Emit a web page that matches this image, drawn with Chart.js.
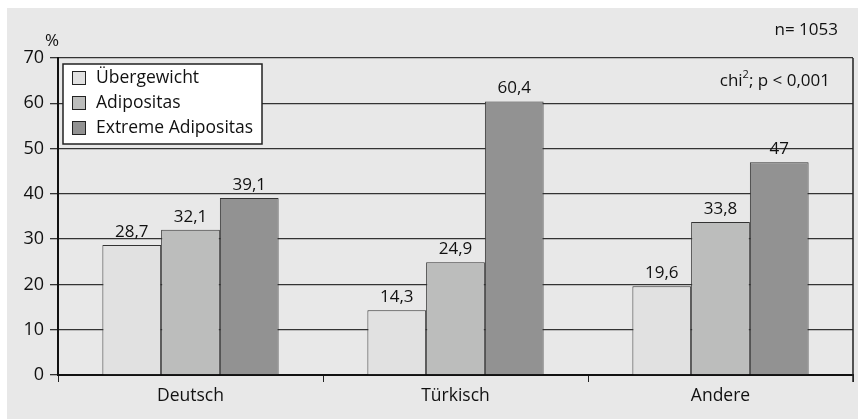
<!DOCTYPE html>
<html>
<head>
<meta charset="utf-8">
<script src="https://cdn.jsdelivr.net/npm/chart.js@4"></script>
<style>
  html, body { margin: 0; padding: 0; background: #ffffff; }
  #wrap { width: 858px; height: 419px; }
</style>
</head>
<body>
<div id="wrap"><canvas id="grafico" width="858" height="419"></canvas></div>
<script>
const categorias = ["Deutsch", "Türkisch", "Andere"];
const ubergewicht = [28.7, 14.3, 19.6];
const adipositas = [32.1, 24.9, 33.8];
const extremeAdipositas = [39.1, 60.4, 47];
const rotulos = [
    ["28,7", "14,3", "19,6"],
    ["32,1", "24,9", "33,8"],
    ["39,1", "60,4", "47"]
];
const ticksY = [0, 10, 20, 30, 40, 50, 60, 70];

const fonte = "'Open Sans', 'DejaVu Sans', sans-serif";

// fundo cinza, borda direita, textos extras e legenda
const extras = {
    id: "extras",
    beforeDraw(chart) {
        const ctx = chart.ctx;
        ctx.save();
        ctx.fillStyle = "#e8e8e8";
        ctx.fillRect(7, 8, chart.width - 7, chart.height - 8);
        ctx.restore();
    },
    afterDatasetsDraw(chart) {
        const ctx = chart.ctx;
        const area = chart.chartArea;
        ctx.save();
        // borda direita
        ctx.strokeStyle = "#222";
        ctx.lineWidth = 1.5;
        ctx.beginPath();
        ctx.moveTo(area.right, area.top);
        ctx.lineTo(area.right, area.bottom + 7);
        ctx.stroke();

        // valores acima das barras
        ctx.fillStyle = "#111";
        ctx.font = "17px " + fonte;
        ctx.textAlign = "center";
        ctx.textBaseline = "alphabetic";
        chart.data.datasets.forEach((ds, i) => {
            const meta = chart.getDatasetMeta(i);
            meta.data.forEach((bar, j) => {
                ctx.fillText(rotulos[i][j], bar.x, bar.y - 8);
            });
        });

        // textos
        ctx.font = "17px " + fonte;
        ctx.textAlign = "right";
        ctx.textBaseline = "middle";
        ctx.fillText("n= 1053", 838, 30);
        ctx.fillText("; p < 0,001", 830, 81);
        const w = ctx.measureText("; p < 0,001").width;
        ctx.font = "11px " + fonte;
        ctx.fillText("2", 830 - w, 75);
        const w2 = ctx.measureText("2").width;
        ctx.font = "17px " + fonte;
        ctx.fillText("chi", 830 - w - w2, 81);
        ctx.textAlign = "left";
        ctx.fillText("%", 45, 41);

        // legenda
        const lx = 63, ly = 64, lw = 199, lh = 80;
        ctx.fillStyle = "#ffffff";
        ctx.fillRect(lx, ly, lw, lh);
        ctx.strokeStyle = "#222";
        ctx.lineWidth = 1.5;
        ctx.strokeRect(lx, ly, lw, lh);
        chart.data.datasets.forEach((ds, i) => {
            const cy = 78 + i * 25;
            ctx.fillStyle = ds.backgroundColor;
            ctx.fillRect(72, cy - 7, 14, 14);
            ctx.strokeStyle = "#222";
            ctx.lineWidth = 1;
            ctx.strokeRect(72.5, cy - 6.5, 13, 13);
            ctx.fillStyle = "#111";
            ctx.font = "17.5px " + fonte;
            ctx.textAlign = "left";
            ctx.textBaseline = "middle";
            ctx.fillText(ds.label, 96, cy);
        });
        ctx.restore();
    }
};

new Chart(document.getElementById("grafico"), {
    type: "bar",
    data: {
        labels: categorias,
        datasets: [
            {
                label: "Übergewicht",
                data: ubergewicht,
                backgroundColor: "#e1e1e1",
                borderColor: "#333",
                borderWidth: 1
            },
            {
                label: "Adipositas",
                data: adipositas,
                backgroundColor: "#bcbdbc",
                borderColor: "#333",
                borderWidth: 1
            },
            {
                label: "Extreme Adipositas",
                data: extremeAdipositas,
                backgroundColor: "#929292",
                borderColor: "#333",
                borderWidth: 1
            }
        ]
    },
    options: {
        responsive: false,
        animation: false,
        devicePixelRatio: 1,
        layout: {
            padding: { left: 0, top: 58, right: 5, bottom: 0 }
        },
        datasets: {
            bar: { categoryPercentage: 0.665, barPercentage: 1 }
        },
        plugins: {
            legend: { display: false },
            tooltip: { enabled: false }
        },
        scales: {
            x: {
                afterFit(scale) { scale.height = 44; },
                grid: {
                    offset: true,
                    drawOnChartArea: false,
                    drawTicks: true,
                    tickLength: 7,
                    color: "#222"
                },
                border: { color: "#111", width: 2 },
                ticks: {
                    color: "#111",
                    font: { family: fonte, size: 17.5 },
                    padding: 4
                }
            },
            y: {
                min: 0,
                max: 70,
                afterFit(scale) { scale.width = 58; },
                afterBuildTicks(scale) {
                    scale.ticks = ticksY.map(v => ({ value: v }));
                },
                grid: {
                    color: "#333",
                    lineWidth: 1.3,
                    drawTicks: true,
                    tickLength: 8
                },
                border: { color: "#111", width: 2 },
                ticks: {
                    color: "#111",
                    font: { family: fonte, size: 18 },
                    padding: 6
                }
            }
        }
    },
    plugins: [extras]
});
</script>
</body>
</html>
